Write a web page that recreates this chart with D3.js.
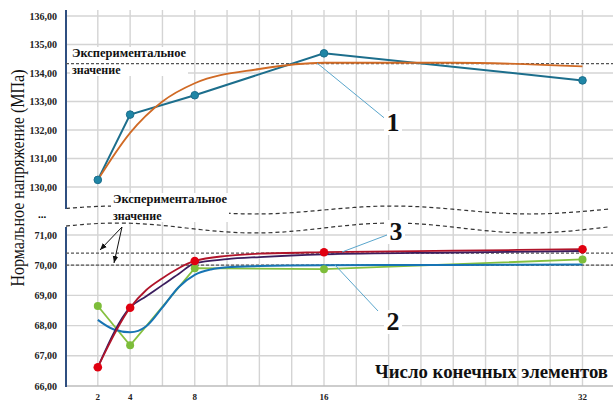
<!DOCTYPE html>
<html>
<head>
<meta charset="utf-8">
<script src="https://cdn.jsdelivr.net/npm/d3@7"></script>
<style>
  body { margin: 0; background: #fff; }
</style>
</head>
<body>
<div id="chart"></div>
<script>
// number of finite elements
const elems = [2, 4, 8, 16, 32];
const xTicks = [2, 4, 8, 16, 32];
const xGrid = d3.range(2, 33, 2);

// upper panel (series 1)
const upperTicks = [130, 131, 132, 133, 134, 135, 136];
const series1 = [130.25, 132.54, 133.22, 134.69, 133.74];
const fit1X = [2, 4, 6, 8, 12, 16, 24, 32];
const fit1 = [130.25, 131.9, 133.0, 133.64, 134.14, 134.36, 134.36, 134.23];
const exp1 = 134.33;

// lower panel (series 2 and 3)
const lowerTicks = [66, 67, 68, 69, 70, 71];
const series2 = [68.65, 67.35, 69.9, 69.87, 70.19];          // green
const fit2X = [2, 3, 4, 5, 6, 7, 8, 9, 10, 12, 16, 24, 32];
const fit2 = [68.19, 67.87, 67.78, 67.98, 68.6, 69.27, 69.68, 69.86, 69.93, 69.97, 70.0, 70.01, 70.02]; // blue
const series3 = [66.62, 68.59, 70.14, 70.43, 70.53];          // red markers
const fit3X = [2, 4, 5, 6, 7, 8, 10, 12, 16, 24, 32];
const fit3 = [66.62, 68.59, 69.18, 69.57, 69.9, 70.14, 70.31, 70.38, 70.43, 70.48, 70.53]; // red curve
const fit3bX = [2, 4, 5, 6, 7, 8, 10, 12, 16, 24, 32];
const fit3b = [66.62, 68.6, 68.97, 69.34, 69.71, 70.06, 70.2, 70.27, 70.36, 70.42, 70.47]; // dark purple
const exp2 = [70.4, 70.0];

const expLabel = ["Экспериментальное", "значение"];

const W = 613, H = 400;
const FONT = "'Liberation Serif', 'DejaVu Serif', serif";
const svg = d3.select("#chart").append("svg")
  .attr("width", W).attr("height", H)
  .attr("font-family", FONT);

const x = d3.scaleLinear().domain([0, 32]).range([65.5, 582.5]);
const yU = d3.scaleLinear().domain([130, 136]).range([187, 16]);
const yL = d3.scaleLinear().domain([66, 71]).range([386, 235]);

const fmt = v => d3.format(".2f")(v).replace(".", ",");

// grid
const grid = svg.append("g");
grid.selectAll("line.v").data(xGrid).enter().append("line")
  .attr("x1", d => x(d)).attr("x2", d => x(d))
  .attr("y1", 10).attr("y2", 386)
  .attr("stroke", "#d4d4d4").attr("stroke-width", 1.4);
grid.selectAll("line.hu").data(upperTicks).enter().append("line")
  .attr("x1", 66).attr("x2", W)
  .attr("y1", d => yU(d)).attr("y2", d => yU(d))
  .attr("stroke", "#d4d4d4").attr("stroke-width", 1.4);
grid.selectAll("line.hl").data(lowerTicks).enter().append("line")
  .attr("x1", 66).attr("x2", W)
  .attr("y1", d => yL(d)).attr("y2", d => yL(d))
  .attr("stroke", d => d === 66 ? "#bcbcbc" : "#d4d4d4").attr("stroke-width", 1.4);

// break mark (wavy dashed lines)
const wave = (y0, a) => d3.line().curve(d3.curveBasis)(
  d3.range(66, W + 1, 8).map(px => [px, y0 + a * Math.cos(2 * Math.PI * (px - 255) / 275)]));
svg.append("path").attr("d", wave(210, 4)).attr("fill", "none")
  .attr("stroke", "#333").attr("stroke-width", 1.2).attr("stroke-dasharray", "4,3");
svg.append("path").attr("d", wave(228, 5)).attr("fill", "none")
  .attr("stroke", "#333").attr("stroke-width", 1.2).attr("stroke-dasharray", "4,3");
svg.append("text").attr("x", 42).attr("y", 218).attr("text-anchor", "middle")
  .attr("font-size", 11).attr("font-weight", "bold").text("...");

// left axes
svg.append("line").attr("x1", 66).attr("x2", 66).attr("y1", 10).attr("y2", 209)
  .attr("stroke", "#2f4f80").attr("stroke-width", 2);
svg.append("line").attr("x1", 66).attr("x2", 66).attr("y1", 227).attr("y2", 387)
  .attr("stroke", "#2f4f80").attr("stroke-width", 2);

// tick labels
svg.selectAll("text.tu").data(upperTicks).enter().append("text")
  .attr("x", 57).attr("y", d => yU(d) + 3.5).attr("text-anchor", "end")
  .attr("font-size", 10).attr("font-weight", "bold").attr("fill", "#222").text(fmt);
svg.selectAll("text.tl").data(lowerTicks).enter().append("text")
  .attr("x", 57).attr("y", d => yL(d) + 3.5).attr("text-anchor", "end")
  .attr("font-size", 10).attr("font-weight", "bold").attr("fill", "#222").text(fmt);
svg.selectAll("text.tx").data(xTicks).enter().append("text")
  .attr("x", d => x(d)).attr("y", 399.5).attr("text-anchor", "middle")
  .attr("font-size", 9).attr("font-weight", "bold").attr("fill", "#222").text(d => d);

// axis titles
svg.append("text").attr("transform", "translate(24,178) rotate(-90)")
  .attr("text-anchor", "middle").attr("font-size", 18).attr("fill", "#111")
  .attr("textLength", 217).attr("lengthAdjust", "spacingAndGlyphs")
  .text("Нормальное напряжение (МПа)");
svg.append("text").attr("x", 375).attr("y", 378)
  .attr("font-size", 18).attr("font-weight", "bold").attr("fill", "#111")
  .attr("textLength", 233).attr("lengthAdjust", "spacingAndGlyphs")
  .text("Число конечных элементов");

// experimental label boxes
const expBox = (tx, ty) => {
  svg.append("rect").attr("x", tx - 2).attr("y", ty - 10).attr("width", 118).attr("height", 29).attr("fill", "#fff");
};
expBox(72, 57);
expBox(113, 203);

// experimental dashed lines
svg.append("line").attr("x1", 66).attr("x2", W).attr("y1", yU(exp1)).attr("y2", yU(exp1))
  .attr("stroke", "#555").attr("stroke-width", 1.2).attr("stroke-dasharray", "3,2");
svg.selectAll("line.e2").data(exp2).enter().append("line")
  .attr("x1", 66).attr("x2", W).attr("y1", d => yL(d)).attr("y2", d => yL(d))
  .attr("stroke", "#555").attr("stroke-width", 1.2).attr("stroke-dasharray", "3,2");

const expText = (tx, ty) => {
  const t = svg.append("text").attr("font-size", 12).attr("font-weight", "bold").attr("fill", "#111");
  t.append("tspan").attr("x", tx).attr("y", ty).attr("textLength", 114)
    .attr("lengthAdjust", "spacingAndGlyphs").text(expLabel[0]);
  t.append("tspan").attr("x", tx).attr("y", ty + 17).text(expLabel[1]);
};
expText(72, 57);
expText(113, 203);

// arrows
svg.append("defs").append("marker").attr("id", "arr")
  .attr("viewBox", "0 0 10 10").attr("refX", 10).attr("refY", 5)
  .attr("markerWidth", 7).attr("markerHeight", 7).attr("orient", "auto")
  .append("path").attr("d", "M0,1 L10,5 L0,9 Z").attr("fill", "#111");
[[100, 250], [114, 263]].forEach(([ax, ay]) => {
  svg.append("line").attr("x1", 122).attr("y1", 227).attr("x2", ax).attr("y2", ay)
    .attr("stroke", "#111").attr("stroke-width", 1).attr("marker-end", "url(#arr)");
});

// series
const lineU = (xs) => d3.line().x((d, i) => x(xs[i])).y(d => yU(d));
const lineL = (xs) => d3.line().x((d, i) => x(xs[i])).y(d => yL(d));

svg.append("path").attr("d", lineU(elems)(series1)).attr("fill", "none")
  .attr("stroke", "#1c6e8c").attr("stroke-width", 2);
svg.append("path").attr("d", lineU(fit1X).curve(d3.curveMonotoneX)(fit1)).attr("fill", "none")
  .attr("stroke", "#d06a25").attr("stroke-width", 1.8);
svg.selectAll("circle.s1").data(series1).enter().append("circle")
  .attr("cx", (d, i) => x(elems[i])).attr("cy", d => yU(d)).attr("r", 3.8)
  .attr("fill", "#1f86a6").attr("stroke", "#1c6e8c").attr("stroke-width", 1);

svg.append("path").attr("d", lineL(elems)(series2)).attr("fill", "none")
  .attr("stroke", "#86c040").attr("stroke-width", 1.8);
svg.append("path").attr("d", lineL(fit2X).curve(d3.curveMonotoneX)(fit2)).attr("fill", "none")
  .attr("stroke", "#1774b4").attr("stroke-width", 2);
svg.append("path").attr("d", lineL(fit3bX).curve(d3.curveMonotoneX)(fit3b)).attr("fill", "none")
  .attr("stroke", "#3b1d5e").attr("stroke-width", 1.8);
svg.append("path").attr("d", lineL(fit3X).curve(d3.curveMonotoneX)(fit3)).attr("fill", "none")
  .attr("stroke", "#b0142a").attr("stroke-width", 1.8);
svg.selectAll("circle.s2").data(series2).enter().append("circle")
  .attr("cx", (d, i) => x(elems[i])).attr("cy", d => yL(d)).attr("r", 4)
  .attr("fill", "#7dbd3a");
svg.selectAll("circle.s3").data(series3).enter().append("circle")
  .attr("cx", (d, i) => x(elems[i])).attr("cy", d => yL(d)).attr("r", 4.3)
  .attr("fill", "#e00010");

// callout numbers
const callouts = [
  { label: "1", from: [317, 63], to: [388, 121], tx: 393, ty: 131 },
  { label: "3", from: [342, 252], to: [387, 235], tx: 396, ty: 240 },
  { label: "2", from: [335, 265], to: [378, 311], tx: 393, ty: 330 }
];
callouts.forEach(c => {
  svg.append("line").attr("x1", c.from[0]).attr("y1", c.from[1]).attr("x2", c.to[0]).attr("y2", c.to[1])
    .attr("stroke", "#5aa6cc").attr("stroke-width", 1);
  svg.append("rect").attr("x", c.tx - 9).attr("y", c.ty - 20).attr("width", 18).attr("height", 24)
    .attr("fill", "#fff");
  svg.append("text").attr("x", c.tx).attr("y", c.ty).attr("text-anchor", "middle")
    .attr("font-size", 26).attr("font-weight", "bold").attr("fill", "#111").text(c.label);
});
</script>
</body>
</html>
